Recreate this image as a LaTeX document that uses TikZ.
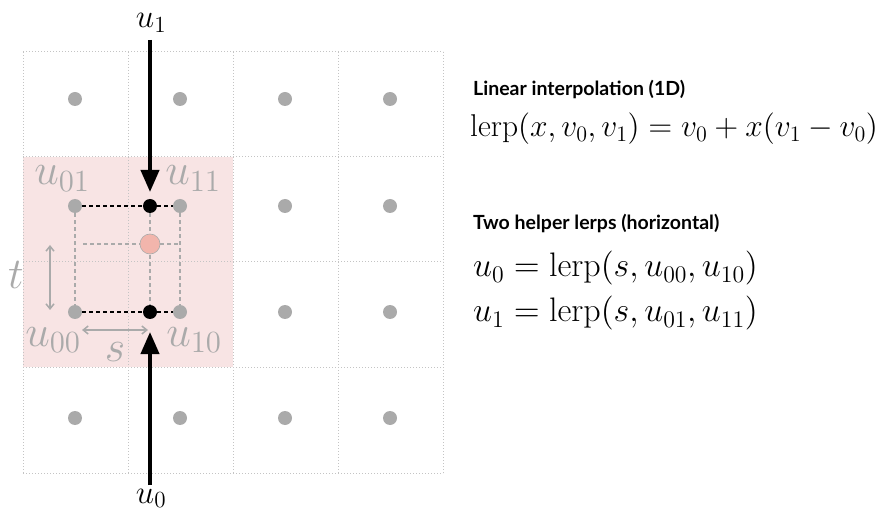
\documentclass[tikz,border=0pt]{standalone}
\usepackage{fontspec}
\DeclareFontShape{OML}{cmm}{m}{it}{<-11>cmmi10<11->cmmi12}{}
\DeclareFontShape{OMS}{cmsy}{m}{n}{<->cmsy10}{}
\DeclareFontShape{OT1}{cmr}{m}{n}{<-11>cmr10<11->cmr12}{}
\newfontfamily\headfont{Lato}
\usetikzlibrary{arrows.meta}
\definecolor{gridc}{HTML}{C4C4C4}
\definecolor{dotc}{HTML}{AAAAAA}
\definecolor{pinkbg}{HTML}{F8E4E4}
\definecolor{pinkdot}{HTML}{F2B5AC}
\definecolor{labc}{HTML}{AAAAAA}
\tikzset{
  gridline/.style={gridc, dotted, line width=1pt},
  gdot/.style={circle, fill=dotc, inner sep=0pt, minimum size=14pt},
  bdot/.style={circle, fill=black, inner sep=0pt, minimum size=14pt},
  pdot/.style={circle, fill=pinkdot, draw=dotc, line width=0.6pt, inner sep=0pt, minimum size=20pt},
  bigarrow/.style={line width=4pt, -{Triangle[length=22pt,width=18pt]}},
  graylab/.style={labc, inner sep=0pt, font=\fontsize{44}{50}\selectfont},
  blacklab/.style={inner sep=0pt, font=\fontsize{33}{38}\selectfont},
  dimarrow/.style={dotc, line width=1.5pt, {Straight Barb[length=5pt,width=8pt]}-{Straight Barb[length=5pt,width=8pt]}},
  gdash/.style={dotc, dash pattern=on 4pt off 3pt, line width=1.5pt},
  bdash/.style={black, dash pattern=on 4pt off 3pt, line width=1.5pt},
  heading/.style={anchor=west, inner sep=0pt, font=\headfont\bfseries\fontsize{19.5}{22}\selectfont},
  formula/.style={anchor=west, inner sep=0pt, font=\fontsize{34}{38}\selectfont},
  formulaA/.style={anchor=west, inner sep=0pt, font=\fontsize{31.5}{36}\selectfont},
}
\begin{document}
\begin{tikzpicture}[x=1pt,y=-1pt]
\useasboundingbox (0,0) rectangle (888,526);
% pink background
\fill[pinkbg] (23,157) rectangle (233,367);
% grid
\foreach \x in {23,128,233,338,443} \draw[gridline] (\x,52) -- (\x,473);
\foreach \y in {52,157,262,367,473} \draw[gridline] (23,\y) -- (443,\y);
% gray dots
\foreach \x [count=\i] in {75,180,285,390} {
  \foreach \y [count=\j] in {99,206,312,418} {
    \node[gdot] (g\i\j) at (\x,\y) {};
  }
}
% black dots and pink dot
\node[bdot] (b1) at (150,206) {};
\node[bdot] (b0) at (150,312) {};
\coordinate (hl) at (83,244);
\coordinate (hr) at (180,244);
% gray dashed
\draw[gdash] (g12) -- (g13);
\draw[gdash] (g22) -- (g23);
\draw[gdash] (b1) -- (b0);
\draw[gdash] (hl) -- (hr);
\node[pdot] (p) at (150,244) {};
% black dashed
\draw[bdash] (g12) -- (b1) -- (g22);
\draw[bdash] (g13) -- (b0) -- (g23);
% dimension arrows
\coordinate (ta) at (50,245);
\coordinate (tb) at (50,310);
\draw[dimarrow] (ta) -- (tb);
\coordinate (sa) at (82,330);
\coordinate (sb) at (148,330);
\draw[dimarrow] (sa) -- (sb);
% gray labels
\node[graylab, anchor=base] (l01) at (62,185) {$u_{01}$};
\node[graylab, anchor=base] (l11) at (193,185) {$u_{11}$};
\node[graylab, anchor=base] (l00) at (53,346) {$u_{00}$};
\node[graylab, anchor=base] (l10) at (194,346) {$u_{10}$};
\node[graylab, anchor=base] (lt) at (16,289) {$t$};
\node[graylab, anchor=base] (ls) at (115,361) {$s$};
% big arrows
\node[blacklab, anchor=base] (u1) at (151,28) {$u_1$};
\node[blacklab, anchor=base] (u0) at (151,503) {$u_0$};
\coordinate (topstart) at (150,40);
\coordinate (botstart) at (150,485);
\draw[bigarrow] (topstart) -- (150,192);
\draw[bigarrow] (botstart) -- (150,332);
% text
\node[heading, anchor=base west] (h1) at (473,96) {Linear interpolation (1D)};
\node[formulaA, anchor=base west] (f1) at (470,137) {$\mathrm{lerp}(x,v_0,v_1)=v_0+x(v_1-v_0)$};
\node[heading, anchor=base west] (h2) at (473,230) {Two helper lerps (horizontal)};
\node[formula, anchor=base west] (f2) at (473,277) {$u_0=\mathrm{lerp}(s,u_{00},u_{10})$};
\node[formula, anchor=base west] (f3) at (473,322) {$u_1=\mathrm{lerp}(s,u_{01},u_{11})$};
\end{tikzpicture}
\end{document}
